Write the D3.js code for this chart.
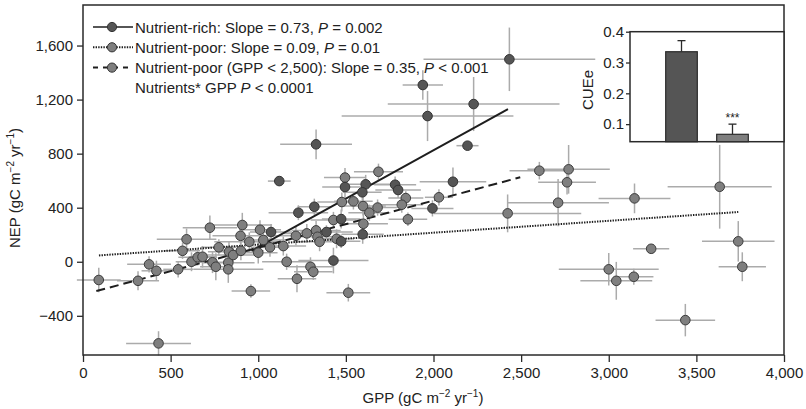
<!DOCTYPE html>
<html lang="en">
<head>
<meta charset="UTF-8">
<title>NEP vs GPP</title>
<script src="https://d3js.org/d3.v7.min.js"></script>
<style>
  body { margin: 0; background: #fff; }
  text { font-family: "Liberation Sans", Arial, Helvetica, sans-serif; fill: #222; }
</style>
</head>
<body>
<div id="chart"></div>
<script>

// Nutrient-rich sites (dark markers)
const richGPP    = [1330, 1120, 1320, 1229, 1073, 1389, 1473, 1495, 1613, 1594, 1781, 1798, 1994, 2111, 1966, 2229, 2194, 1596, 1473, 1429, 2433, 1939];
const richNEP    = [869, 597, 407, 363, 220, 220, 316, 553, 573, 514, 570, 531, 395, 592, 1078, 1167, 859, 203, 151, 9, 1498, 1308];
const richGPPerr = [205, 65, 95, 170, 120, 150, 110, 130, 140, 110, 120, 130, 120, 190, 490, 490, 63, 120, 110, 200, 490, 115];
const richNEPerr = [110, 20, 60, 55, 60, 50, 70, 80, 70, 60, 60, 60, 60, 105, 185, 200, 30, 70, 50, 95, 235, 110];

// Nutrient-poor sites (grey markers)
const poorGPP = [90, 314, 377, 419, 431, 543, 591, 568, 619, 654, 682, 739, 758, 775, 829, 829, 833, 857, 901, 899,
                 958, 949, 1000, 724, 909, 1010, 1029, 1067, 1143, 1162, 1221, 1298, 1314, 1215, 1277, 1330, 1338, 1350, 1429, 1447,
                 1686, 1495, 1842, 1819, 2031, 1854, 1477, 1543, 1598, 1634, 1681, 1600, 1514, 2604, 2771, 2762, 2711, 2423, 3147, 3633,
                 3242, 3000, 3043, 3143, 3739, 3762, 3437];
const poorNEP = [-135, -141, -19, -67, -604, -56, 166, 81, 0, 33, 37, -4, -37, 107, -7, -56, 74, 50, 81, 192,
                 -217, 148, 67, 252, 272, 237, 161, 107, 116, 0, -126, -37, -74, 192, 210, 232, 185, 148, 309, 170,
                 666, 623, 471, 422, 477, 314, 442, 447, 412, 363, 401, 281, -229, 674, 684, 588, 437, 358, 469, 555,
                 96, -56, -141, -111, 151, -37, -432];
const poorGPPerr = [125, 120, 125, 85, 185, 85, 170, 100, 90, 110, 80, 100, 90, 100, 150, 200, 120, 150, 130, 160,
                    110, 200, 110, 155, 170, 120, 130, 110, 130, 140, 110, 130, 110, 130, 130, 140, 110, 150, 130, 100,
                    140, 120, 100, 120, 80, 110, 140, 110, 130, 120, 110, 140, 125, 170, 235, 165, 290, 420, 205, 297,
                    103, 285, 205, 112, 207, 135, 170];
const poorNEPerr = [90, 70, 60, 75, 90, 60, 80, 60, 70, 60, 80, 80, 100, 60, 70, 100, 80, 60, 70, 60,
                    50, 70, 80, 90, 90, 70, 60, 70, 70, 60, 100, 70, 60, 70, 70, 70, 60, 70, 60, 70,
                    60, 70, 50, 60, 60, 50, 70, 60, 70, 60, 60, 90, 65, 65, 180, 90, 175, 140, 110, 310,
                    20, 120, 140, 60, 150, 107, 120];

// fitted lines: [GPP start, GPP end], [NEP start, NEP end]
const richFitGPP = [962, 2425],  richFitNEP = [81, 1130];
const poorFitGPP = [91, 3739],   poorFitNEP = [47, 368];
const lowFitGPP  = [76, 2495],   lowFitNEP  = [-217, 625];

// inset bars
const cueGroups = ["Nutrient-rich", "Nutrient-poor"];
const cueValues = [0.335, 0.067];
const cueErrors = [0.036, 0.033];

const xTicks = [0, 500, 1000, 1500, 2000, 2500, 3000, 3500, 4000];
const yTicks = [-400, 0, 400, 800, 1200, 1600];
const insetTicks = [0.1, 0.2, 0.3, 0.4];

const W = 806, H = 409;
const dark = "#555555", mid = "#7f7f7f", errCol = "#ababab", ink = "#2a2a2a";

const svg = d3.select("#chart").append("svg")
    .attr("width", W)
    .attr("height", H);

const x = d3.scaleLinear().domain([0, 4000]).range([83, 784]);
const y = d3.scaleLinear().domain([-690, 1900]).range([355, 5]);

const rich = richGPP.map((g, i) => ({gpp: g, nep: richNEP[i], xe: richGPPerr[i], ye: richNEPerr[i]}));
const poor = poorGPP.map((g, i) => ({gpp: g, nep: poorNEP[i], xe: poorGPPerr[i], ye: poorNEPerr[i]}));
const all = poor.concat(rich);

// error bars
const eb = svg.append("g").attr("stroke", errCol).attr("stroke-width", 1.5);
eb.selectAll(".xe").data(all).join("line")
    .attr("x1", d => x(d.gpp - d.xe)).attr("x2", d => x(d.gpp + d.xe))
    .attr("y1", d => y(d.nep)).attr("y2", d => y(d.nep));
eb.selectAll(".ye").data(all).join("line")
    .attr("x1", d => x(d.gpp)).attr("x2", d => x(d.gpp))
    .attr("y1", d => y(d.nep - d.ye)).attr("y2", d => y(d.nep + d.ye));

// regression lines
const line = d3.line().x(d => x(d[0])).y(d => y(d[1]));
const fits = [
    {g: poorFitGPP, n: poorFitNEP, dash: "1.4,1.2", w: 2},
    {g: lowFitGPP, n: lowFitNEP, dash: "9,5", w: 2},
    {g: richFitGPP, n: richFitNEP, dash: null, w: 2}
];
svg.append("g").selectAll("path").data(fits).join("path")
    .attr("d", d => line(d.g.map((v, i) => [v, d.n[i]])))
    .attr("fill", "none")
    .attr("stroke", "#1e1e1e")
    .attr("stroke-width", d => d.w)
    .attr("stroke-dasharray", d => d.dash);

// points
svg.append("g").selectAll("circle").data(poor).join("circle")
    .attr("cx", d => x(d.gpp)).attr("cy", d => y(d.nep)).attr("r", 4.8)
    .attr("fill", mid).attr("stroke", "#3c3c3c").attr("stroke-width", 1);
svg.append("g").selectAll("circle").data(rich).join("circle")
    .attr("cx", d => x(d.gpp)).attr("cy", d => y(d.nep)).attr("r", 4.8)
    .attr("fill", dark).attr("stroke", "#333").attr("stroke-width", 1);

// frame
svg.append("rect")
    .attr("x", 83).attr("y", 5).attr("width", 701).attr("height", 350)
    .attr("fill", "none").attr("stroke", ink).attr("stroke-width", 1.5);

const fmt = d3.format(",");
const xAxis = svg.append("g").attr("transform", "translate(0,355)")
    .call(d3.axisBottom(x).tickValues(xTicks).tickFormat(fmt).tickSize(7).tickPadding(5));
const yAxis = svg.append("g").attr("transform", "translate(83,0)")
    .call(d3.axisLeft(y).tickValues(yTicks).tickFormat(fmt).tickSize(6).tickPadding(4));
[xAxis, yAxis].forEach(a => {
    a.select(".domain").remove();
    a.selectAll("line").attr("stroke", ink).attr("stroke-width", 1.3);
    a.selectAll("text").style("font-size", "15px").attr("fill", "#222");
});

// axis titles
const xt = svg.append("text").attr("x", 423).attr("y", 403)
    .attr("text-anchor", "middle").style("font-size", "15px");
xt.append("tspan").text("GPP (gC m");
xt.append("tspan").attr("dy", -6).style("font-size", "10px").text("\u22122");
xt.append("tspan").attr("dy", 6).text(" yr");
xt.append("tspan").attr("dy", -6).style("font-size", "10px").text("\u22121");
xt.append("tspan").attr("dy", 6).text(")");

const yt = svg.append("text").attr("transform", "translate(20,188) rotate(-90)")
    .attr("text-anchor", "middle").style("font-size", "15px");
yt.append("tspan").text("NEP (gC m");
yt.append("tspan").attr("dy", -6).style("font-size", "10px").text("\u22122");
yt.append("tspan").attr("dy", 6).text(" yr");
yt.append("tspan").attr("dy", -6).style("font-size", "10px").text("\u22121");
yt.append("tspan").attr("dy", 6).text(")");

// legend
const legendRows = [
    {dash: null, fill: dark, parts: ["Nutrient-rich: Slope = 0.73, ", "P", " = 0.002"]},
    {dash: "1.4,1.2", fill: mid, parts: ["Nutrient-poor: Slope = 0.09, ", "P", " = 0.01"]},
    {dash: "5,5", fill: mid, parts: ["Nutrient-poor (GPP < 2,500): Slope = 0.35, ", "P", " < 0.001"]},
    {dash: "none", fill: null, parts: ["Nutrients* GPP ", "P", " < 0.0001"]}
];
const lg = svg.append("g");
legendRows.forEach((r, i) => {
    const cy = 27 + i * 20.3;
    if (r.fill) {
        lg.append("line").attr("x1", 93).attr("x2", 133).attr("y1", cy).attr("y2", cy)
            .attr("stroke", "#1e1e1e").attr("stroke-width", r.dash ? 2 : 1.5)
            .attr("stroke-dasharray", r.dash);
        lg.append("circle").attr("cx", 112).attr("cy", cy).attr("r", 4.6)
            .attr("fill", r.fill).attr("stroke", "#333").attr("stroke-width", 1);
    }
    const t = lg.append("text").attr("x", 135).attr("y", cy + 5.5).style("font-size", "15px");
    r.parts.forEach((p, j) => {
        t.append("tspan").style("font-style", j === 1 ? "italic" : "normal").text(p);
    });
});

// inset bar chart
const ix = d3.scaleBand().domain(cueGroups).range([630, 784]).paddingInner(0.38).paddingOuter(0.7);
const iy = d3.scaleLinear().domain([0.043, 0.4]).range([141.7, 31.7]);
const inset = svg.append("g");
inset.append("rect").attr("x", 630).attr("y", 31.7).attr("width", 154).attr("height", 110)
    .attr("fill", "#fff").attr("stroke", ink).attr("stroke-width", 1.5);
inset.selectAll(".err").data(cueGroups).join("g").each(function(g, i) {
    const cx = ix(g) + ix.bandwidth() / 2;
    const sel = d3.select(this);
    sel.append("line").attr("x1", cx).attr("x2", cx)
        .attr("y1", iy(cueValues[i])).attr("y2", iy(cueValues[i] + cueErrors[i]))
        .attr("stroke", ink).attr("stroke-width", 1.3);
    sel.append("line").attr("x1", cx - 4).attr("x2", cx + 4)
        .attr("y1", iy(cueValues[i] + cueErrors[i])).attr("y2", iy(cueValues[i] + cueErrors[i]))
        .attr("stroke", ink).attr("stroke-width", 1.3);
});
inset.selectAll(".bar").data(cueGroups).join("rect")
    .attr("x", d => ix(d)).attr("width", ix.bandwidth())
    .attr("y", (d, i) => iy(cueValues[i]))
    .attr("height", (d, i) => iy.range()[0] - iy(cueValues[i]))
    .attr("fill", (d, i) => i === 0 ? dark : mid)
    .attr("stroke", ink).attr("stroke-width", 1.2);
inset.append("text")
    .attr("x", ix(cueGroups[1]) + ix.bandwidth() / 2).attr("y", iy(cueValues[1] + cueErrors[1]) - 2)
    .attr("text-anchor", "middle").style("font-size", "12px").text("***");
const iAxis = inset.append("g").attr("transform", "translate(630,0)")
    .call(d3.axisLeft(iy).tickValues(insetTicks).tickFormat(d3.format(".1f")).tickSize(4).tickPadding(2));
iAxis.select(".domain").remove();
iAxis.selectAll("line").attr("stroke", ink).attr("stroke-width", 1.3);
iAxis.selectAll("text").style("font-size", "15px").attr("fill", "#222");
inset.append("text").attr("transform", "translate(593,90) rotate(-90)")
    .attr("text-anchor", "middle").style("font-size", "15px").text("CUEe");

</script>
</body>
</html>
